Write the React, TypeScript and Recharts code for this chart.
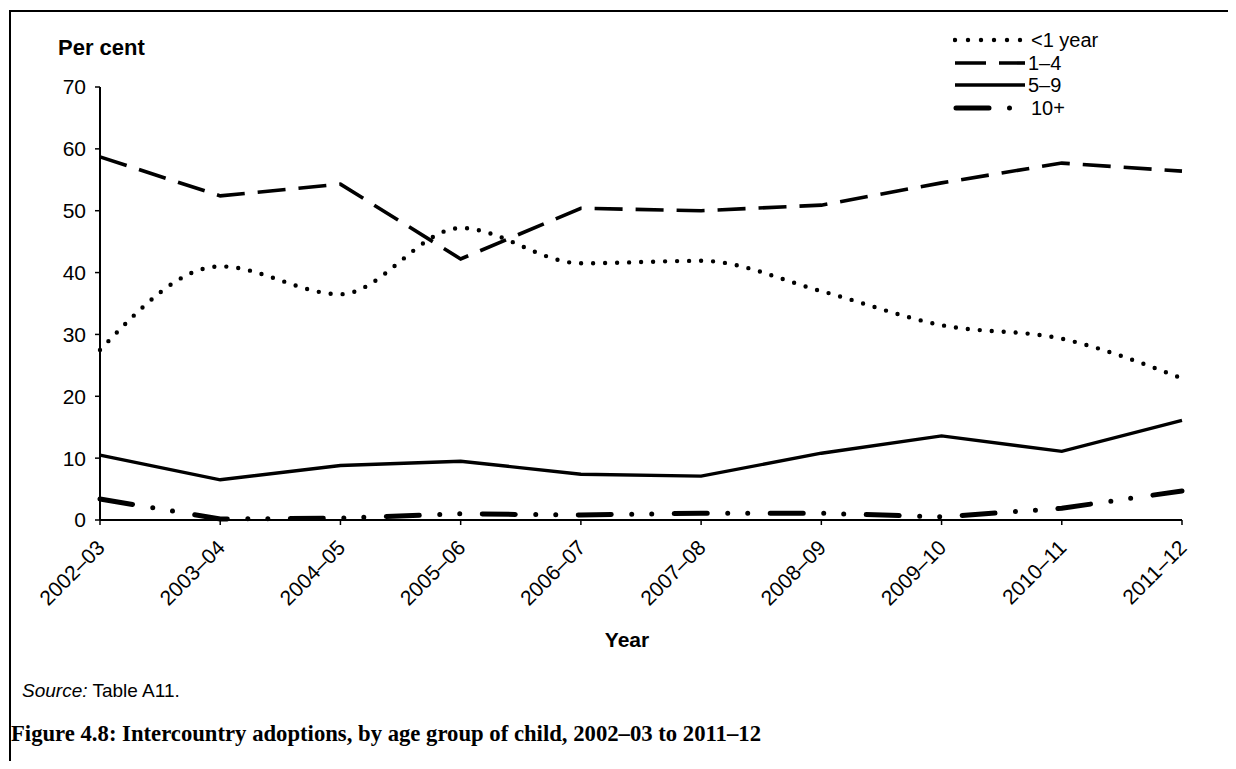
import React from "react";
import { Legend, Line, LineChart, XAxis, YAxis, Label } from "recharts";

const years = [
  "2002–03",
  "2003–04",
  "2004–05",
  "2005–06",
  "2006–07",
  "2007–08",
  "2008–09",
  "2009–10",
  "2010–11",
  "2011–12",
];

const underOne = [27.5, 41.0, 36.5, 47.2, 41.5, 41.9, 37.0, 31.5, 29.3, 22.9];
const oneToFour = [58.7, 52.4, 54.3, 42.2, 50.4, 50.0, 50.9, 54.5, 57.7, 56.4];
const fiveToNine = [10.5, 6.5, 8.8, 9.5, 7.4, 7.1, 10.8, 13.6, 11.1, 16.1];
const tenPlus = [3.4, 0.15, 0.3, 1.0, 0.8, 1.1, 1.1, 0.5, 1.9, 4.7];

const yTicks = [0, 10, 20, 30, 40, 50, 60, 70];

const seriesNames = ["<1 year", "1–4", "5–9", "10+"];

const chartData = years.map((year, i) => ({
  year,
  under1: underOne[i],
  age1to4: oneToFour[i],
  age5to9: fiveToNine[i],
  age10plus: tenPlus[i],
}));

const SANS = "'Liberation Sans', Arial, sans-serif";

// line looks per series (plot and legend sample)
const lineStyles: Record<string, { dash?: string; width: number; cap: "round" | "butt" }> = {
  "<1 year": { dash: "0 12", width: 4.4, cap: "round" },
  "1–4": { dash: "28 13", width: 3.6, cap: "butt" },
  "5–9": { width: 3.4, cap: "butt" },
  "10+": { dash: "33 20.5 0 20 0 22.5", width: 5, cap: "round" },
};

function XTick(props: any) {
  const { x, y, payload } = props;
  const tx = x + 6;
  const ty = y + 22;
  return (
    <text
      x={tx}
      y={ty}
      transform={`rotate(-45 ${tx} ${ty})`}
      textAnchor="end"
      fontSize={21}
      fontFamily={SANS}
      fill="#000"
    >
      {payload.value}
    </text>
  );
}

function LegendBox() {
  return (
    <div style={{ fontFamily: SANS, fontSize: 20, color: "#000" }}>
      {seriesNames.map((name) => {
        const s = lineStyles[name];
        return (
          <div key={name} style={{ display: "flex", alignItems: "center", height: 22.5 }}>
            <svg width={72} height={22} style={{ display: "block" }}>
              <line
                x1={name === "10+" ? 3 : 2}
                x2={name === "<1 year" ? 68 : 72}
                y1={11}
                y2={11}
                stroke="#000"
                strokeWidth={s.width}
                strokeDasharray={name === "<1 year" ? "0 13" : name === "1–4" ? "31 13" : s.dash}
                strokeLinecap={s.cap}
              />
            </svg>
            <span style={{ marginLeft: name === "<1 year" || name === "10+" ? 6 : 3, lineHeight: "22px" }}>
              {name}
            </span>
          </div>
        );
      })}
    </div>
  );
}

export default function App() {
  return (
    <div
      style={{
        position: "relative",
        width: 1236,
        height: 769,
        margin: -8,
        overflow: "hidden",
        background: "#fff",
      }}
    >
      <div
        style={{
          position: "absolute",
          left: 9,
          top: 10,
          width: 1260,
          height: 800,
          border: "2px solid #000",
        }}
      />
      <div
        style={{
          position: "absolute",
          left: 58,
          top: 35,
          fontFamily: SANS,
          fontWeight: "bold",
          fontSize: 22,
        }}
      >
        Per cent
      </div>
      <div style={{ position: "absolute", left: 0, top: 0 }}>
        <LineChart
          width={1236}
          height={700}
          data={chartData}
          margin={{ top: 87, right: 54, left: 40, bottom: 80 }}
        >
          <XAxis
            dataKey="year"
            scale="point"
            padding={{ left: 0, right: 0 }}
            interval={0}
            height={100}
            tickSize={5}
            tick={<XTick />}
            axisLine={{ stroke: "#000", strokeWidth: 2 }}
            tickLine={{ stroke: "#000", strokeWidth: 1.5 }}
          >
            <Label
              value="Year"
              position="bottom"
              offset={12}
              dx={-14}
              style={{ fontFamily: SANS, fontWeight: "bold", fontSize: 21, fill: "#000" }}
            />
          </XAxis>
          <YAxis
            domain={[0, 70]}
            ticks={yTicks}
            width={60}
            tickSize={5}
            tickMargin={9}
            interval={0}
            axisLine={{ stroke: "#000", strokeWidth: 2 }}
            tickLine={{ stroke: "#000", strokeWidth: 1.5 }}
            tick={{ fontSize: 21, fontFamily: SANS, fill: "#000" }}
          />
          <Legend
            layout="vertical"
            align="center"
            verticalAlign="middle"
            wrapperStyle={{ left: 953, top: 29, width: 200 }}
            content={() => <LegendBox />}
          />
          <Line
            dataKey="under1"
            name="<1 year"
            type="monotone"
            stroke="#000"
            strokeWidth={lineStyles["<1 year"].width}
            strokeDasharray={lineStyles["<1 year"].dash}
            strokeLinecap="round"
            dot={false}
            activeDot={false}
            isAnimationActive={false}
          />
          <Line
            dataKey="age1to4"
            name="1–4"
            type="linear"
            stroke="#000"
            strokeWidth={lineStyles["1–4"].width}
            strokeDasharray={lineStyles["1–4"].dash}
            dot={false}
            activeDot={false}
            isAnimationActive={false}
          />
          <Line
            dataKey="age5to9"
            name="5–9"
            type="linear"
            stroke="#000"
            strokeWidth={lineStyles["5–9"].width}
            dot={false}
            activeDot={false}
            isAnimationActive={false}
          />
          <Line
            dataKey="age10plus"
            name="10+"
            type="linear"
            stroke="#000"
            strokeWidth={lineStyles["10+"].width}
            strokeDasharray={lineStyles["10+"].dash}
            strokeLinecap="round"
            dot={false}
            activeDot={false}
            isAnimationActive={false}
          />
        </LineChart>
      </div>
      <div
        style={{
          position: "absolute",
          left: 22,
          top: 680,
          fontFamily: SANS,
          fontSize: 19,
          color: "#000",
        }}
      >
        <i>Source:</i> Table A11.
      </div>
      <div
        style={{
          position: "absolute",
          left: 11,
          top: 721,
          fontFamily: "'Liberation Serif', serif",
          fontWeight: "bold",
          fontSize: 22.7,
          color: "#000",
        }}
      >
        Figure 4.8: Intercountry adoptions, by age group of child, 2002–03 to 2011–12
      </div>
    </div>
  );
}
